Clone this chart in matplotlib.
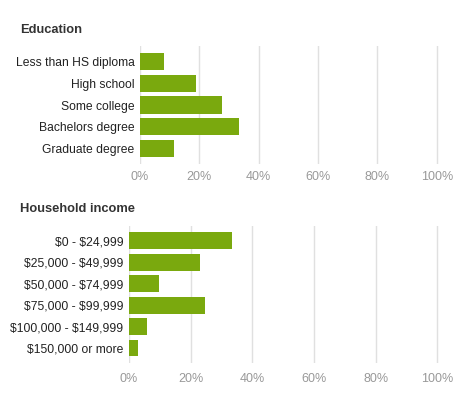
import matplotlib.pyplot as plt

plt.rcParams['font.family'] = ['Liberation Sans', 'DejaVu Sans']
plt.rcParams['text.parse_math'] = False

# Education
edu_labels = ['Less than HS diploma', 'High school', 'Some college',
              'Bachelors degree', 'Graduate degree']
edu_values = [8.1, 18.9, 27.6, 33.3, 11.5]

# Household income
inc_labels = ['$0 - $24,999', '$25,000 - $49,999', '$50,000 - $74,999',
              '$75,000 - $99,999', '$100,000 - $149,999', '$150,000 or more']
inc_values = [33.4, 23.1, 9.6, 24.6, 5.9, 2.8]

ticks = [0, 20, 40, 60, 80, 100]
bar_color = '#7aa90e'
W, H = 471, 401

fig = plt.figure(figsize=(W / 100, H / 100), dpi=100)


def panel(rect, labels, values, ylim, xpad):
    ax = fig.add_axes(rect)
    pos = range(len(labels))
    ax.barh(pos, values, height=0.79, color=bar_color, zorder=3)
    ax.set_xlim(0, 101)
    ax.set_ylim(*ylim)
    ax.set_xticks(ticks)
    ax.set_xticklabels([f'{t}%' for t in ticks], color='#999999', fontsize=9)
    ax.set_yticks(list(pos))
    ax.set_yticklabels(labels, color='#222222', fontsize=8.7)
    ax.grid(axis='x', color='#e0e0e0', linewidth=1, zorder=0)
    ax.tick_params(length=0, pad=4)
    ax.tick_params(axis='x', pad=xpad)
    for s in ax.spines.values():
        s.set_visible(False)
    return ax


# top panel: x 140..436.7 px, grid y 46..164 px
panel([140 / W, 1 - 164 / H, 296.7 * 1.01 / W, 118 / H], edu_labels,
      edu_values, (4.7, -0.7), 5)
fig.text(20 / W, 1 - 30 / H, 'Education', fontsize=9.3, fontweight='bold',
         color='#333333', va='center')

# bottom panel: x 129..437.3 px, grid y 225.7..363 px
panel([129 / W, 1 - 363 / H, 308.3 * 1.01 / W, 137.3 / H], inc_labels,
      inc_values, (5.7, -0.7), 7)
fig.text(20 / W, 1 - 209 / H, 'Household income', fontsize=9.3,
         fontweight='bold', color='#333333', va='center')

fig.savefig('out.png', dpi=100, facecolor='white')
